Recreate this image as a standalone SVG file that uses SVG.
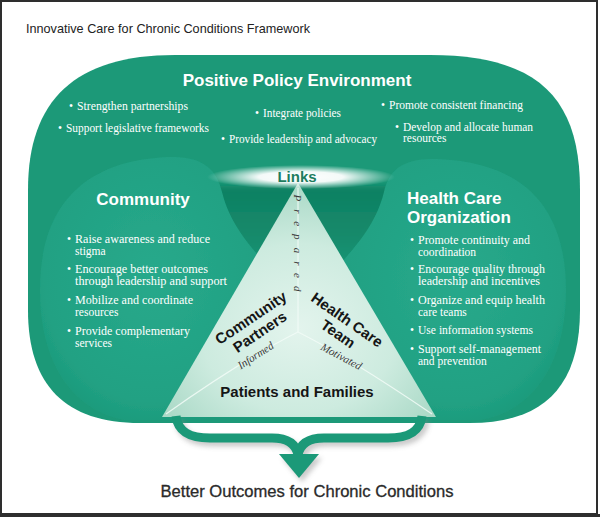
<svg xmlns="http://www.w3.org/2000/svg" width="600" height="517" viewBox="0 0 600 517">
<defs>
<style>
.wt{fill:#ffffff;font-family:"Liberation Serif","Times New Roman",serif;}
.pb{font-size:11.5px;}
.lb{font-size:11.5px;}
.hd{fill:#ffffff;font-family:"Liberation Sans",Arial,sans-serif;font-weight:bold;font-size:17px;}
.tri{fill:#151515;font-family:"Liberation Sans",Arial,sans-serif;font-weight:bold;font-size:15px;text-anchor:middle;}
.it{fill:#3a3a3a;font-family:"Liberation Serif","Times New Roman",serif;font-style:italic;font-size:11px;text-anchor:middle;}
.yl{fill:none;stroke:#f2fbf7;stroke-width:1.2;opacity:0.85;}
</style>
<radialGradient id="lobeG" cx="0.5" cy="0.45" r="0.6">
<stop offset="0" stop-color="#28a98b"/>
<stop offset="0.8" stop-color="#21a183"/>
<stop offset="1" stop-color="#1b997a"/>
</radialGradient>
<linearGradient id="funnelG" x1="0" y1="0" x2="0" y2="1">
<stop offset="0" stop-color="#0f8062"/>
<stop offset="0.6" stop-color="#148a6b"/>
<stop offset="1" stop-color="#1b9676"/>
</linearGradient>
<radialGradient id="triG" cx="0.5" cy="0.62" r="0.6">
<stop offset="0" stop-color="#e3f4ed"/>
<stop offset="0.6" stop-color="#cdebdf"/>
<stop offset="1" stop-color="#acdac8"/>
</radialGradient>
<radialGradient id="glowG" cx="0.5" cy="0.5" r="0.5">
<stop offset="0" stop-color="#ffffff" stop-opacity="1"/>
<stop offset="0.45" stop-color="#ffffff" stop-opacity="0.95"/>
<stop offset="1" stop-color="#ffffff" stop-opacity="0"/>
</radialGradient>
<filter id="blur2" x="-20%" y="-20%" width="140%" height="140%"><feGaussianBlur stdDeviation="2.5"/></filter>
<filter id="soft" x="-5%" y="-5%" width="110%" height="110%"><feGaussianBlur stdDeviation="0.7"/></filter>
<filter id="soft3" x="-10%" y="-10%" width="120%" height="120%"><feGaussianBlur stdDeviation="3"/></filter>
</defs>

<rect x="0" y="0" width="600" height="517" fill="#ffffff"/>
<rect x="1" y="1" width="596" height="513" fill="none" stroke="#2e2e2e" stroke-width="2"/>
<line x1="0" y1="515.5" x2="600" y2="515.5" stroke="#2e2e2e" stroke-width="3"/>

<g id="title">
<text x="26" y="33" font-family="'Liberation Sans',Arial,sans-serif" font-size="13.5" fill="#222" textLength="284" lengthAdjust="spacingAndGlyphs">Innovative Care for Chronic Conditions Framework</text>
</g>

<g id="policy">
<path d="M175,55 L430,55 C540,55 580,100 580,190 L580,310 C580,385 545,423 470,423 L140,423 C65,423 28,385 28,310 L28,190 C28,100 75,55 175,55 Z" fill="#1b9978" filter="url(#soft)"/>
<text class="hd" x="297" y="86" text-anchor="middle">Positive Policy Environment</text>
<g class="wt pb">
<text x="69" y="110">•</text><text x="77" y="110" textLength="111" lengthAdjust="spacingAndGlyphs">Strengthen partnerships</text>
<text x="58" y="132">•</text><text x="66" y="132" textLength="143" lengthAdjust="spacingAndGlyphs">Support legislative frameworks</text>
<text x="255" y="117">•</text><text x="263" y="117" textLength="78" lengthAdjust="spacingAndGlyphs">Integrate policies</text>
<text x="221" y="143">•</text><text x="229" y="143" textLength="148" lengthAdjust="spacingAndGlyphs">Provide leadership and advocacy</text>
<text x="381" y="109">•</text><text x="389" y="109" textLength="134" lengthAdjust="spacingAndGlyphs">Promote consistent financing</text>
<text x="395" y="131">•</text><text x="403" y="131" textLength="130" lengthAdjust="spacingAndGlyphs">Develop and allocate human</text>
<text x="403" y="142">resources</text>
</g>
</g>

<path id="funnel" d="M205,186 L397,186 C388,215 364,240 348,268 L256,268 C240,240 214,215 205,186 Z" fill="url(#funnelG)" filter="url(#soft3)"/>

<g id="community">
<path d="M40,290 C40,210 80,160 170,157 C203,156 217,170 222,192 C230,225 252,248 264,262 L264,420 L125,420 C70,410 40,360 40,290 Z" fill="url(#lobeG)" filter="url(#soft)"/>
<text class="hd" x="143" y="205" text-anchor="middle">Community</text>
<g class="wt lb">
<text x="67" y="243">•</text><text x="75" y="243" textLength="135" lengthAdjust="spacingAndGlyphs">Raise awareness and reduce</text>
<text x="75" y="255">stigma</text>
<text x="67" y="273">•</text><text x="75" y="273" textLength="133" lengthAdjust="spacingAndGlyphs">Encourage better outcomes</text>
<text x="75" y="285" textLength="152" lengthAdjust="spacingAndGlyphs">through leadership and support</text>
<text x="67" y="304">•</text><text x="75" y="304" textLength="118" lengthAdjust="spacingAndGlyphs">Mobilize and coordinate</text>
<text x="75" y="316">resources</text>
<text x="67" y="335">•</text><text x="75" y="335" textLength="115" lengthAdjust="spacingAndGlyphs">Provide complementary</text>
<text x="75" y="347">services</text>
</g>
</g>

<g id="health-care-organization">
<path d="M566,290 C566,210 526,162 436,159 C403,158 389,170 384,192 C376,225 354,248 342,262 L342,420 L481,420 C536,410 566,360 566,290 Z" fill="url(#lobeG)" filter="url(#soft)"/>
<text class="hd" x="407" y="204" font-size="16.5">Health Care</text>
<text class="hd" x="407" y="223" font-size="16.5">Organization</text>
<g class="wt lb">
<text x="410" y="244">•</text><text x="418" y="244" textLength="112" lengthAdjust="spacingAndGlyphs">Promote continuity and</text>
<text x="418" y="256">coordination</text>
<text x="410" y="273">•</text><text x="418" y="273" textLength="127" lengthAdjust="spacingAndGlyphs">Encourage quality through</text>
<text x="418" y="285" textLength="122" lengthAdjust="spacingAndGlyphs">leadership and incentives</text>
<text x="410" y="304">•</text><text x="418" y="304" textLength="127" lengthAdjust="spacingAndGlyphs">Organize and equip health</text>
<text x="418" y="316">care teams</text>
<text x="410" y="334">•</text><text x="418" y="334" textLength="115" lengthAdjust="spacingAndGlyphs">Use information systems</text>
<text x="410" y="353">•</text><text x="418" y="353" textLength="123" lengthAdjust="spacingAndGlyphs">Support self-management</text>
<text x="418" y="365">and prevention</text>
</g>
</g>

<g id="triangle">
<polygon points="298,183 436,417 162,417" fill="url(#triG)"/>
<line class="yl" x1="298" y1="188" x2="298" y2="332"/>
<path class="yl" d="M298,332 C262,350 214,380 166,414"/>
<path class="yl" d="M298,332 C334,350 382,380 432,414"/>
<text class="it" font-size="13" transform="rotate(90 298 243)" x="298" y="247" textLength="97" lengthAdjust="spacing">Prepared</text>
<g id="community-partners">
<text class="tri" transform="rotate(-34 251 318)" x="251" y="323">Community</text>
<text class="tri" transform="rotate(-34 260 332)" x="260" y="337">Partners</text>
</g>
<g id="health-care-team">
<text class="tri" transform="rotate(35 347 320)" x="347" y="325">Health Care</text>
<text class="tri" transform="rotate(35 338 334)" x="338" y="339">Team</text>
</g>
<text class="it" transform="rotate(-33 256 356)" x="256" y="359">Informed</text>
<text class="it" transform="rotate(28 341 357)" x="341" y="360">Motivated</text>
<text id="patients-families" class="tri" x="297" y="397">Patients and Families</text>
</g>

<g id="links">
<ellipse cx="301" cy="177" rx="94" ry="12" fill="url(#glowG)"/>
<text x="297" y="182" text-anchor="middle" font-family="'Liberation Sans',Arial,sans-serif" font-weight="bold" font-size="15" fill="#1d7d5e">Links</text>
</g>

<g id="connectors">
<g opacity="0.45" filter="url(#blur2)" transform="translate(3,4)">
<path d="M176,416 C178,432 190,438 210,438 L272,438 C288,438 296,444 298,455 C300,444 308,438 324,438 L388,438 C408,438 420,432 422,416" fill="none" stroke="#8a8a8a" stroke-width="9"/>
<polygon points="279,454 319,454 299,478" fill="#8a8a8a"/>
</g>
<path d="M176,416 C178,432 190,438 210,438 L272,438 C288,438 296,444 298,455 C300,444 308,438 324,438 L388,438 C408,438 420,432 422,416" fill="none" stroke="#1b9978" stroke-width="9"/>
<polygon points="279,454 319,454 299,478" fill="#1b9978"/>
</g>

<g id="outcomes">
<text x="307" y="497" text-anchor="middle" font-family="'Liberation Sans',Arial,sans-serif" font-size="16" fill="#2a2a2a" stroke="#2a2a2a" stroke-width="0.3" textLength="293" lengthAdjust="spacingAndGlyphs">Better Outcomes for Chronic Conditions</text>
</g>
</svg>
